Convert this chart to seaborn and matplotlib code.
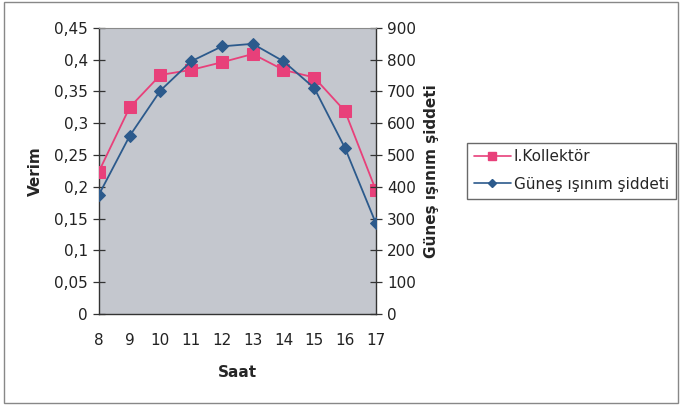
import matplotlib
matplotlib.use("Agg")
import matplotlib.pyplot as plt
import seaborn as sns
import pandas as pd
from matplotlib.lines import Line2D
from matplotlib.patches import Rectangle
from matplotlib.ticker import FuncFormatter, MultipleLocator

saat = [8, 9, 10, 11, 12, 13, 14, 15, 16, 17]
verim_kollektor = [0.224, 0.325, 0.376, 0.384, 0.396, 0.409, 0.384, 0.372, 0.319, 0.195]
gunes_isinim = [375, 560, 703, 795, 842, 850, 795, 711, 522, 286]

df = pd.DataFrame({"Saat": saat, "Verim": verim_kollektor, "Isinim": gunes_isinim})

sns.set_style("white")
plt.rcParams["font.family"] = ["DejaVu Sans"]
plt.rcParams["font.size"] = 11

pink = "#e8407a"
blue = "#2c5a8c"
fs = 11

fig = plt.figure(figsize=(6.82, 4.05), dpi=100)
fig.patch.set_facecolor("white")
fig.patches.append(Rectangle((0.006, 0.006), 0.988, 0.988, transform=fig.transFigure,
                             fill=False, edgecolor="#888888", linewidth=1.0))

ax = fig.add_axes([0.145, 0.225, 0.406, 0.706])
ax.set_facecolor("#c4c7ce")
ax2 = ax.twinx()

sns.lineplot(data=df, x="Saat", y="Verim", ax=ax, color=pink, marker="s",
             markersize=8, markeredgecolor=pink, linewidth=1.3, zorder=3)
sns.lineplot(data=df, x="Saat", y="Isinim", ax=ax2, color=blue, marker="D",
             markersize=6, markeredgecolor=blue, linewidth=1.3, zorder=3)

ax.set_xlim(8, 17)
ax.set_ylim(0, 0.45)
ax2.set_ylim(0, 900)
ax.set_xticks(saat)
ax.yaxis.set_major_locator(MultipleLocator(0.05))
ax2.yaxis.set_major_locator(MultipleLocator(100))
ax.yaxis.set_major_formatter(FuncFormatter(lambda v, p: ("%g" % round(v, 2)).replace(".", ",")))

for a in (ax, ax2):
    for s in a.spines.values():
        s.set_visible(False)
ax.spines["left"].set_visible(True)
ax.spines["bottom"].set_visible(True)
ax2.spines["right"].set_visible(True)
ax2.spines["top"].set_visible(True)
for s in (ax.spines["left"], ax.spines["bottom"], ax2.spines["right"]):
    s.set_color("#333333")
    s.set_linewidth(1.0)
ax2.spines["top"].set_color("#8a8a8a")
ax2.spines["top"].set_linewidth(0.8)

ax.tick_params(axis="both", direction="inout", length=8, width=0.9, color="#333333",
               labelsize=fs, labelcolor="#222222", pad=4)
ax2.tick_params(axis="y", direction="inout", length=8, width=0.9, color="#333333",
                labelsize=fs, labelcolor="#222222", pad=4)
ax.tick_params(axis="x", pad=10)

ax.set_xlabel("Saat", fontweight="bold", fontsize=fs, labelpad=12)
ax.set_ylabel("Verim", fontweight="bold", fontsize=fs, labelpad=8)
ax2.set_ylabel("Güneş ışınım şiddeti", fontweight="bold", fontsize=fs, labelpad=6)
ax.grid(False)
ax2.grid(False)

handles = [
    Line2D([0], [0], color=pink, marker="s", markersize=5.5, linewidth=1.2),
    Line2D([0], [0], color=blue, marker="D", markersize=4, linewidth=1.2),
]
fig.legend(handles, ["I.Kollektör", "Güneş ışınım şiddeti"],
           loc="upper left", bbox_to_anchor=(0.685, 0.648), frameon=True,
           fancybox=False, edgecolor="#444444", fontsize=fs,
           handlelength=2.4, handletextpad=0.2, borderpad=0.45, labelspacing=0.8,
           borderaxespad=0)

fig.savefig("out.png", dpi=100, facecolor=fig.get_facecolor())
